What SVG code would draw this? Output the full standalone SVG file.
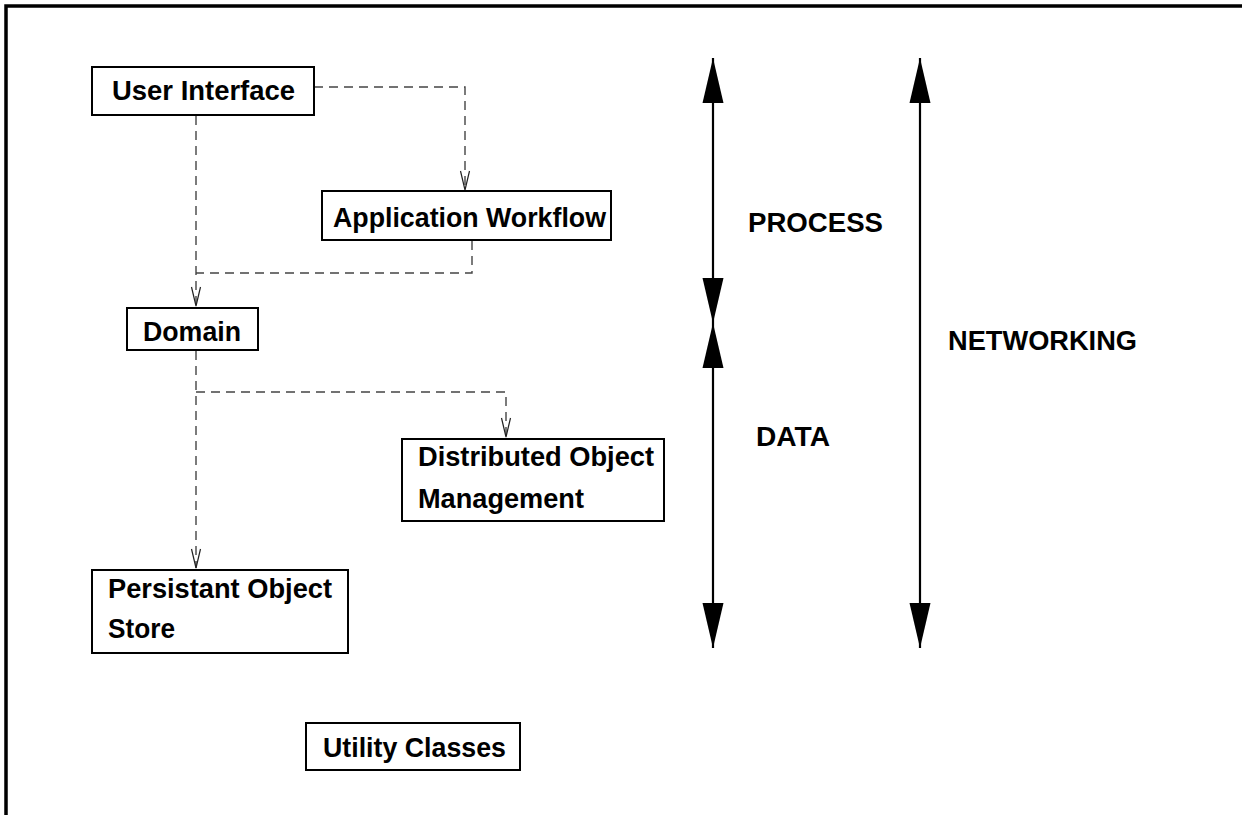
<svg xmlns="http://www.w3.org/2000/svg" width="1242" height="815" viewBox="0 0 1242 815">
  <style>
    .box { fill: #fff; stroke: #000; stroke-width: 2; }
    .lbl { font-family: "Liberation Sans", Arial, sans-serif; font-weight: bold; font-size: 27px; fill: #000; }
    .dash { fill: none; stroke: #444; stroke-width: 1.4; stroke-dasharray: 9 6; }
    .dep { marker-end: url(#open); }
    .span { fill: none; stroke: #000; stroke-width: 2.2; marker-start: url(#solid); marker-end: url(#solid); }
  </style>
  <defs>
    <marker id="open" markerUnits="userSpaceOnUse" orient="auto" refX="0" refY="0" markerWidth="30" markerHeight="20" overflow="visible">
      <path d="M-19,-4.5 L0,0 L-19,4.5" fill="none" stroke="#222" stroke-width="1.2"/>
    </marker>
    <marker id="solid" markerUnits="userSpaceOnUse" orient="auto-start-reverse" refX="0" refY="0" markerWidth="50" markerHeight="30" overflow="visible">
      <path d="M-45,-10.5 L0,0 L-45,10.5 Z" fill="#000"/>
    </marker>
  </defs>

  <rect width="1242" height="815" fill="#fff"/>
  <!-- page frame -->
  <path d="M6,815 V6 H1242" fill="none" stroke="#000" stroke-width="3.5"/>

  <!-- dependency connectors -->
  <g id="connectors">
    <path class="dash dep" d="M314,87 H465 V190"/>
    <path class="dash dep" d="M196,116 V306"/>
    <path class="dash" d="M472,241 V273 H196"/>
    <path class="dash dep" d="M196,351 V568"/>
    <path class="dash dep" d="M196,392 H506 V437"/>
  </g>

  <g id="user-interface">
    <rect class="box" x="92" y="67" width="222" height="48"/>
    <text class="lbl" x="112" y="100" textLength="183" lengthAdjust="spacingAndGlyphs">User Interface</text>
  </g>

  <g id="application-workflow">
    <rect class="box" x="322" y="191" width="289" height="49"/>
    <text class="lbl" x="333" y="227" textLength="273" lengthAdjust="spacingAndGlyphs">Application Workflow</text>
  </g>

  <g id="domain">
    <rect class="box" x="127" y="308" width="131" height="42"/>
    <text class="lbl" x="143" y="341" textLength="98" lengthAdjust="spacingAndGlyphs">Domain</text>
  </g>

  <g id="distributed-object-management">
    <rect class="box" x="402" y="439" width="262" height="82"/>
    <text class="lbl" x="418" y="466" textLength="236" lengthAdjust="spacingAndGlyphs">Distributed Object</text>
    <text class="lbl" x="418" y="508" textLength="166" lengthAdjust="spacingAndGlyphs">Management</text>
  </g>

  <g id="persistant-object-store">
    <rect class="box" x="92" y="570" width="256" height="83"/>
    <text class="lbl" x="108" y="598" textLength="224" lengthAdjust="spacingAndGlyphs">Persistant Object</text>
    <text class="lbl" x="108" y="638" textLength="67" lengthAdjust="spacingAndGlyphs">Store</text>
  </g>

  <g id="utility-classes">
    <rect class="box" x="306" y="723" width="214" height="47"/>
    <text class="lbl" x="323" y="757" textLength="183" lengthAdjust="spacingAndGlyphs">Utility Classes</text>
  </g>

  <!-- layer spans -->
  <g id="process">
    <path class="span" d="M713,58 V323"/>
    <text class="lbl" x="748" y="232" textLength="135" lengthAdjust="spacingAndGlyphs">PROCESS</text>
  </g>

  <g id="data">
    <path class="span" d="M713,323 V648"/>
    <text class="lbl" x="756" y="446" textLength="74" lengthAdjust="spacingAndGlyphs">DATA</text>
  </g>

  <g id="networking">
    <path class="span" d="M920,58 V648"/>
    <text class="lbl" x="948" y="350" textLength="189" lengthAdjust="spacingAndGlyphs">NETWORKING</text>
  </g>
</svg>
